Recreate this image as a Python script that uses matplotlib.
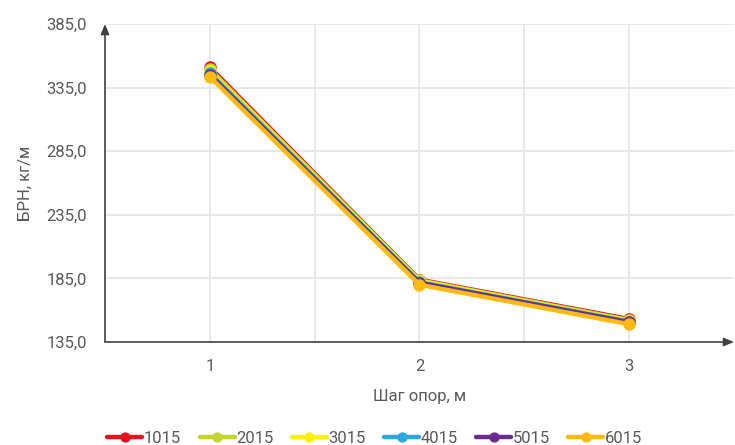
import numpy as np
import matplotlib
matplotlib.use("Agg")
import matplotlib.pyplot as plt

plt.rcParams['font.family'] = ['Roboto', 'DejaVu Sans']

# spans between supports, m
spans = [1, 2, 3]
tick_values = [135.0, 185.0, 235.0, 285.0, 335.0, 385.0]

# BRN, kg/m for each series
s1015 = [351.0, 184.0, 153.0]
s2015 = [349.5, 183.5, 152.3]
s3015 = [348.0, 183.0, 151.5]
s4015 = [346.5, 182.0, 151.0]
s5015 = [345.0, 181.5, 150.5]
s6015 = [343.5, 180.0, 149.0]

series_names = ['1015', '2015', '3015', '4015', '5015', '6015']
series_values = [s1015, s2015, s3015, s4015, s5015, s6015]
colors = ['#E3161F', '#C4D52D', '#FFF200', '#2CA7E0', '#6A2C8E', '#FDBA12']

text_color = '#595959'

fig = plt.figure(figsize=(7.35, 4.45), dpi=100)
ax = fig.add_axes([105 / 735, 1 - 342 / 445, 629 / 735, 318 / 445])

for name, vals, col in zip(series_names, series_values, colors):
    ax.plot(spans, vals, color=col, linewidth=3.2, marker='o', markersize=8,
            label=name, solid_capstyle='round', zorder=3)

ax.set_xlim(0.5, 3.5)
ax.set_ylim(tick_values[0], tick_values[-1])
ax.set_yticks(tick_values)
ax.set_yticklabels([f"{v:.1f}".replace('.', ',') for v in tick_values])
ax.set_xticks(spans)
ax.set_xticklabels([str(s) for s in spans])
ax.tick_params(length=0, labelsize=12, colors=text_color)
ax.tick_params(axis='y', pad=13)
ax.tick_params(axis='x', pad=12)

# grid: horizontal at ticks, vertical at categories and between them
for v in tick_values[1:]:
    ax.axhline(v, color='#E6E6E6', linewidth=1.3, zorder=0)
for xv in [1, 1.5, 2, 2.5, 3]:
    ax.axvline(xv, color='#E6E6E6', linewidth=1.3, zorder=0)

for sp in ax.spines.values():
    sp.set_visible(False)

# axes with arrows
arrow_kw = dict(arrowstyle='-|>,head_length=0.6,head_width=0.25', color='#404040',
                lw=1.2, shrinkA=0, shrinkB=0)
ax.annotate('', xy=(0, 1.0), xytext=(0, 0), xycoords='axes fraction',
            arrowprops=arrow_kw, annotation_clip=False)
ax.annotate('', xy=(1.0, 0), xytext=(0, 0), xycoords='axes fraction',
            arrowprops=arrow_kw, annotation_clip=False)

ax.set_xlabel('Шаг опор, м', fontsize=12, color=text_color, labelpad=11)
ax.set_ylabel('БРН, кг/м', fontsize=12, color=text_color, labelpad=10)

leg = fig.legend(loc='lower center', bbox_to_anchor=(0.51, -0.035), ncol=6,
                 frameon=False, fontsize=12, handlelength=2.1,
                 handletextpad=0.1, columnspacing=1.1, markerscale=0.8)
for t in leg.get_texts():
    t.set_color(text_color)

fig.savefig('out.png', dpi=100)
